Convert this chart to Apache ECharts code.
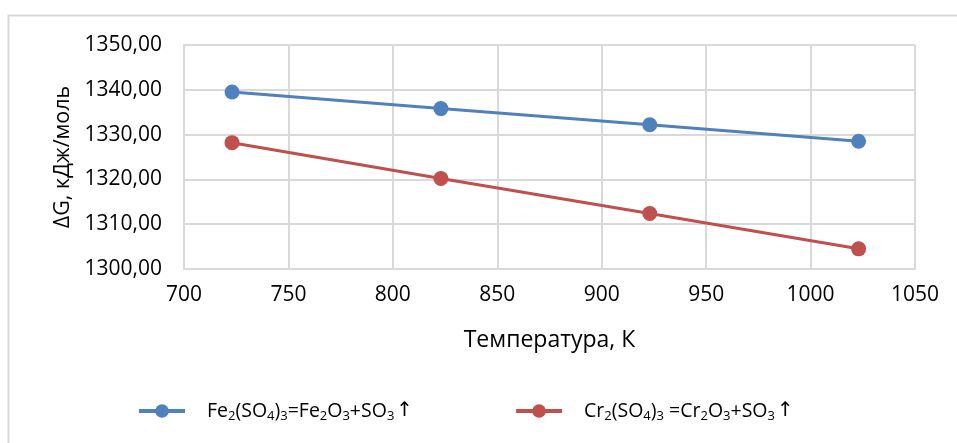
<!DOCTYPE html>
<html>
<head>
<meta charset="utf-8">
<script src="https://cdn.jsdelivr.net/npm/echarts@6/dist/echarts.min.js"></script>
<style>
  html, body { margin: 0; padding: 0; background: #fff; }
  #chart { width: 957px; height: 443px; }
</style>
</head>
<body>
<div id="chart"></div>
<script>
// temperatures, K
const temps = [723, 823, 923, 1023];
// ΔG, kJ/mol
const feValues = [1339.5, 1335.8, 1332.2, 1328.5];
const crValues = [1328.2, 1320.2, 1312.4, 1304.5];
const seriesNames = ["Fe2(SO4)3=Fe2O3+SO3↑", "Cr2(SO4)3 =Cr2O3+SO3↑"];
const legendRich = [
  "{f|Fe}{s|2}{t|(SO}{s|4}{t|)}{s|3}{t|=Fe}{s|2}{t|O}{s|3}{t|+SO}{s|3}{a|↑}",
  "{f|Cr}{s|2}{t|(SO}{s|4}{t|)}{s|3}{t| =Cr}{s|2}{t|O}{s|3}{t|+SO}{s|3}{a|↑}"
];

const font = "'Open Sans', sans-serif";
const chart = echarts.init(document.getElementById("chart"));

const toPairs = (vals) => temps.map((t, i) => [t, vals[i]]);

chart.setOption({
  animation: false,
  textStyle: { fontFamily: font, color: "#000" },
  graphic: [
    {
      type: "rect",
      shape: { x: 8.5, y: 15.5, width: 960, height: 440 },
      style: { fill: null, stroke: "#d9d9d9", lineWidth: 2 },
      silent: true
    }
  ],
  grid: { left: 184, top: 45, width: 731, height: 224 },
  legend: {
    left: 132,
    top: 396,
    itemWidth: 46,
    itemHeight: 17,
    itemGap: 101,
    data: seriesNames,
    lineStyle: { width: 4 },
    formatter: (name) => legendRich[seriesNames.indexOf(name)],
    textStyle: {
      rich: {
        f: { fontFamily: font, fontSize: 19.5, color: "#000", padding: [0, 0, 0, 17] },
        t: { fontFamily: font, fontSize: 19.5, color: "#000" },
        s: { fontFamily: font, fontSize: 13, color: "#000", padding: [10, 0, 0, 0] },
        a: { fontFamily: "'DejaVu Sans', sans-serif", fontSize: 20, color: "#000", padding: [0, 0, 0, 2] }
      }
    }
  },
  xAxis: {
    type: "value",
    min: 700,
    max: 1050,
    interval: 50,
    name: "Температура, К",
    nameLocation: "middle",
    nameGap: 60,
    nameTextStyle: { fontSize: 23, color: "#000" },
    axisLine: { show: true, lineStyle: { color: "#d9d9d9", width: 2 } },
    axisTick: { show: false },
    axisLabel: { fontSize: 21, color: "#000", margin: 16, formatter: (v) => String(v) },
    splitLine: { show: true, lineStyle: { color: "#d9d9d9", width: 2 } }
  },
  yAxis: {
    type: "value",
    min: 1300,
    max: 1350,
    interval: 10,
    name: "ΔG, кДж/моль",
    nameLocation: "middle",
    nameGap: 109,
    nameTextStyle: { fontSize: 21.5, color: "#000" },
    axisLine: { show: true, lineStyle: { color: "#d9d9d9", width: 2 } },
    axisTick: { show: false },
    axisLabel: {
      fontSize: 21,
      color: "#000",
      margin: 22,
      formatter: (v) => v.toFixed(2).replace(".", ",")
    },
    splitLine: { show: true, lineStyle: { color: "#d9d9d9", width: 2 } }
  },
  series: [
    {
      name: seriesNames[0],
      type: "line",
      data: toPairs(feValues),
      symbol: "circle",
      symbolSize: 15,
      itemStyle: { color: "#4f81bd" },
      lineStyle: { color: "#4f81bd", width: 3 }
    },
    {
      name: seriesNames[1],
      type: "line",
      data: toPairs(crValues),
      symbol: "circle",
      symbolSize: 15,
      itemStyle: { color: "#c0504d" },
      lineStyle: { color: "#c0504d", width: 3 }
    }
  ]
});
</script>
</body>
</html>
